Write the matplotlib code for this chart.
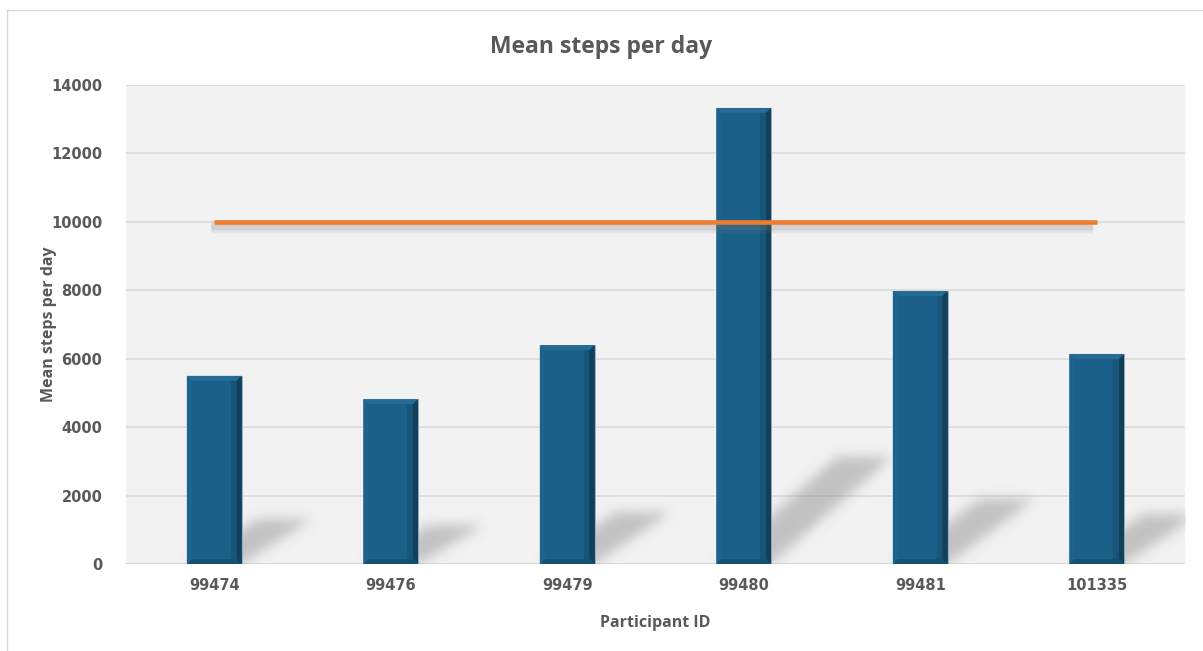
import numpy as np
import matplotlib
matplotlib.use("Agg")
from matplotlib import pyplot as plt
from matplotlib.patches import Polygon
from matplotlib.lines import Line2D

participants = ["99474", "99476", "99479", "99480", "99481", "101335"]
mean_steps = [5500, 4820, 6400, 13330, 7980, 6140]
target_steps = 10000
y_ticks = [0, 2000, 4000, 6000, 8000, 10000, 12000, 14000]

plt.rcParams["font.family"] = ["Open Sans", "DejaVu Sans"]
text_grey = "#595959"
bar_face = "#1a6088"

fig = plt.figure(figsize=(12.03, 6.51), dpi=100)
fig.patch.set_facecolor("white")
ax = fig.add_axes([0.1047, 0.1336, 0.8803, 0.7358])
ax.set_facecolor("#f2f2f2")

x = np.arange(len(participants))
ymax = 14000
ax.set_xlim(-0.5, len(participants) - 0.5)
ax.set_ylim(0, ymax)

# pixel -> data scale factors
ax_w_px = 0.8803 * 1203
ax_h_px = 0.7358 * 651
px_x = (len(participants)) / ax_w_px
px_y = ymax / ax_h_px

ax.set_yticks(y_ticks)
ax.yaxis.grid(True, color="#d9d9d9", lw=1.1, zorder=0)
ax.set_axisbelow(True)
for s in ax.spines.values():
    s.set_visible(False)
ax.axhline(0, color="#d9d9d9", lw=1.3, zorder=1)
ax.tick_params(length=0)
ax.set_xticks(x)
ax.set_xticklabels(participants)
for lbl in ax.get_xticklabels() + ax.get_yticklabels():
    lbl.set_fontweight("bold")
    lbl.set_color(text_grey)
    lbl.set_fontsize(10.5)
    lbl.set_family("DejaVu Sans")
ax.tick_params(axis="x", pad=10)
ax.tick_params(axis="y", pad=17)

# blurred floor shadows behind the bars
bw = 0.31
nx, ny = int(ax_w_px), int(ax_h_px)
gx = np.linspace(-0.5, len(participants) - 0.5, nx)
gy = np.linspace(0, ymax, ny)
GX, GY = np.meshgrid(gx, gy)
mask = np.zeros_like(GX)
for xi, v in zip(x, mean_steps):
    h_px = v / px_y
    dy = 0.235 * v
    dx = (34 + 0.19 * h_px) * px_x
    t = np.clip(GY / dy, 0, None)
    left = xi - bw / 2 + t * dx
    inside = (GY <= dy) & (GX >= left) & (GX <= left + bw)
    mask[inside] = 1.0

def blur(a, sigma):
    r = int(3 * sigma)
    k = np.exp(-0.5 * (np.arange(-r, r + 1) / sigma) ** 2)
    k /= k.sum()
    a = np.apply_along_axis(lambda m: np.convolve(m, k, mode="same"), 0, a)
    a = np.apply_along_axis(lambda m: np.convolve(m, k, mode="same"), 1, a)
    return a

mask = blur(mask, 6.0)
shadow = np.zeros((ny, nx, 4))
shadow[..., :3] = 0.5
shadow[..., 3] = mask * 0.42
ax.imshow(shadow, extent=(-0.5, len(participants) - 0.5, 0, ymax),
          origin="lower", aspect="auto", zorder=1.5, interpolation="bilinear")

# bars with a bevelled face
bars = ax.bar(x, mean_steps, width=bw, color=bar_face, edgecolor="#9db5c6",
              linewidth=0.6, zorder=3)
bx = 5 * px_x
by = 5 * px_y
for xi, v in zip(x, mean_steps):
    x0, x1 = xi - bw / 2, xi + bw / 2
    faces = [
        ([(x0, v), (x1, v), (x1 - bx, v - by), (x0 + bx, v - by)], "#256b93"),
        ([(x1, v), (x1, 0), (x1 - bx, by), (x1 - bx, v - by)], "#123f59"),
        ([(x0, 0), (x1, 0), (x1 - bx, by), (x0 + bx, by)], "#16506f"),
        ([(x0, 0), (x0, v), (x0 + bx, v - by), (x0 + bx, by)], "#1c648d"),
    ]
    for pts, c in faces:
        ax.add_patch(Polygon(pts, closed=True, facecolor=c, edgecolor="none", zorder=3.5))
    # darker band along the right side
    ax.add_patch(Polygon([(x1 - bx, by), (x1 - 2.2 * bx, by), (x1 - 2.2 * bx, v - by),
                          (x1 - bx, v - by)], closed=True, facecolor="#164f70",
                         edgecolor="none", alpha=0.6, zorder=3.4))

# target line with a soft drop shadow
for w, a in [(10, 0.05), (8, 0.07), (6, 0.09), (4, 0.11)]:
    ax.plot([x[0] - 0.02, x[-1] - 0.02], [target_steps - 5 * px_y] * 2,
            color="#7f7f7f", lw=w, alpha=a, solid_capstyle="butt", zorder=4)
ax.plot([x[0], x[-1]], [target_steps, target_steps], color="#ed7d31", lw=3.3,
        solid_capstyle="butt", zorder=5)

fig.text(0.5, 0.928, "Mean steps per day", ha="center", va="center",
         fontsize=16.5, fontweight="bold", color=text_grey)
ax.set_xlabel("Participant ID", fontsize=11.5, fontweight="bold", color=text_grey, labelpad=16)
ax.set_ylabel("Mean steps per day", fontsize=11.5, fontweight="bold", color=text_grey, labelpad=-4)

# chart frame
fig.add_artist(Line2D([7 / 1203, 7 / 1203], [0, 1 - 10 / 651], color="#d9d9d9", lw=1))
fig.add_artist(Line2D([7 / 1203, 1], [1 - 10 / 651, 1 - 10 / 651], color="#d9d9d9", lw=1))

fig.savefig("out.png", dpi=100)
